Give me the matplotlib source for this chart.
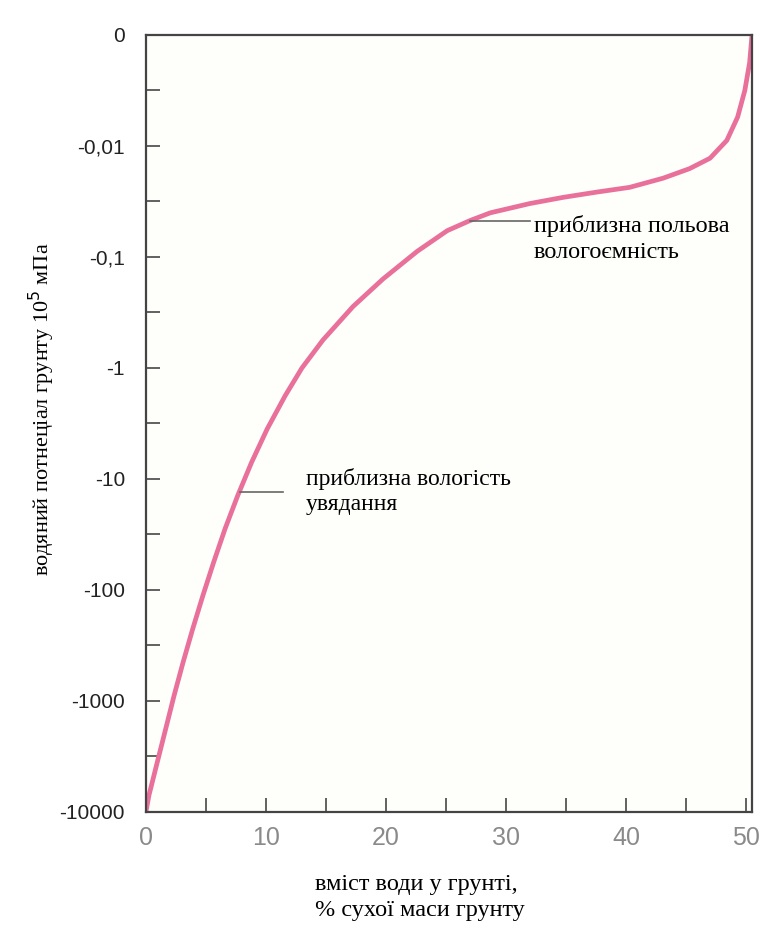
import numpy as np
import matplotlib.pyplot as plt

# water content, % of dry soil mass
water = [0, 0.25, 0.95, 1.65, 2.35, 3.1, 3.9, 4.75, 5.65, 6.6, 7.65, 8.8,
         10.1, 11.6, 13.0, 14.75, 17.25, 19.75, 22.6, 25.1, 27.0, 28.7, 32.0,
         34.8, 37.6, 40.3, 43.1, 45.3, 47.0, 48.4, 49.3, 49.9, 50.3, 50.5]
# soil water potential (10^5 mPa)
potential = [-10000, -7100, -3550, -1780, -891, -447, -224, -112, -56, -28,
             -14.1, -7.1, -3.55, -1.78, -1.0, -0.56, -0.28, -0.158, -0.089,
             -0.058, -0.047, -0.040, -0.033, -0.029, -0.026, -0.0236, -0.0195,
             -0.016, -0.0129, -0.0095, -0.0074, -0.005, -0.0025, 0]

ytick_vals = [0, -0.01, -0.1, -1, -10, -100, -1000, -10000]
ytick_labels = ["0", "-0,01", "-0,1", "-1", "-10", "-100", "-1000", "-10000"]
yminor_vals = [-0.005, -10**-1.5, -10**-0.5, -10**0.5, -10**1.5, -10**2.5, -10**3.5]
xtick_vals = [0, 10, 20, 30, 40, 50]
xminor_vals = [5, 15, 25, 35, 45]

fc_x = [27.0, 32.0]    # field capacity marker
fc_y = -0.047
wp_x = [7.8, 11.4]     # wilting point marker
wp_y = -13

fig = plt.figure(figsize=(7.6, 9.25), dpi=100)
ax = fig.add_axes([0.192, 0.1222, 0.7975, 0.84])
ax.set_facecolor("#fefefa")

ax.plot(water, potential, color="#e8709a", lw=3.4, solid_capstyle="round",
        solid_joinstyle="round")
ax.plot(fc_x, [fc_y, fc_y], color="#666666", lw=1.2)
ax.plot(wp_x, [wp_y, wp_y], color="#666666", lw=1.2)

ax.set_yscale("symlog", linthresh=0.01, linscale=0.9)
ax.set_ylim(-10000, 0)
ax.set_xlim(0, 50.5)

ax.set_yticks(ytick_vals)
ax.set_yticklabels(ytick_labels, fontsize=15, family="Liberation Sans", color="#222222")
ax.set_yticks(yminor_vals, minor=True)
ax.set_xticks(xtick_vals)
ax.set_xticklabels([str(v) for v in xtick_vals], fontsize=18,
                   family="Liberation Sans", color="#8a8a8a")
ax.set_xticks(xminor_vals, minor=True)

ax.tick_params(axis="y", which="both", direction="in", length=10, width=1.3,
               color="#555555", pad=15)
ax.tick_params(axis="x", which="both", direction="in", length=10, width=1.3,
               color="#555555", pad=10)
for s in ax.spines.values():
    s.set_color("#444444")
    s.set_linewidth(1.6)

ax.text(32.3, -0.042, "приблизна польова\nвологоємність", fontsize=17.5,
        family="Liberation Serif", va="top", ha="left", linespacing=1.3)
ax.text(13.3, wp_y, "приблизна вологість\nувядання", fontsize=17,
        family="Liberation Serif", va="center", ha="left", linespacing=1.25)

fig.text(0.055, 0.558, "водяний потнеціал грунту 10$^{5}$ мПа", rotation=90,
         fontsize=16, family="Liberation Serif", ha="center", va="center")
fig.text(0.414, 0.03, "вміст води у грунті,\n% сухої маси грунту", fontsize=17.5,
         family="Liberation Serif", ha="left", va="center", linespacing=1.3)

plt.savefig("out.png", dpi=100)
